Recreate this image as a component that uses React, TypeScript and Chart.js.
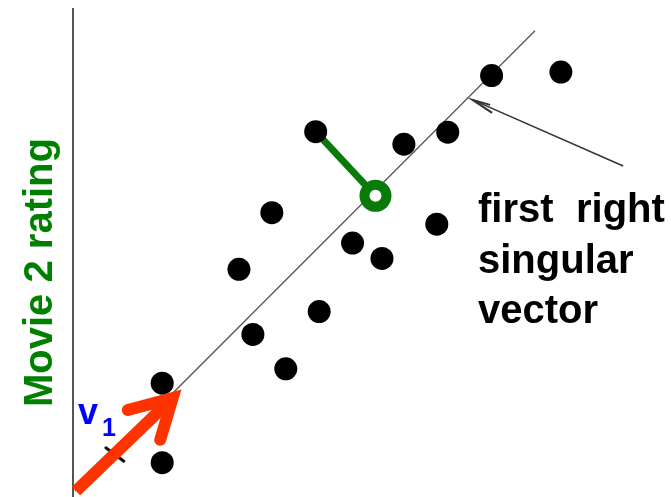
import React, { useEffect, useRef } from "react";
import { Chart, registerables } from "chart.js";

Chart.register(...registerables);

// Ratings (Movie 1 on x, Movie 2 on y)
const movie1 = [1.79, 1.79, 3.61, 4.27, 3.33, 3.99, 4.94, 5.61, 6.2, 4.87, 6.64, 7.52, 7.3, 8.4, 9.79];
const movie2 = [0.69, 2.29, 3.27, 2.58, 4.58, 5.72, 3.73, 5.11, 4.8, 7.35, 7.1, 7.34, 5.49, 8.48, 8.55];

// First right singular vector direction (line through the data)
const svX = [0.04, 9.27];
const svY = [0.12, 9.38];

// Projection of one point onto the vector
const projFromX = 4.87;
const projFromY = 7.35;
const projToX = 6.07;
const projToY = 6.06;

// v1 arrow
const v1ShaftX = [0.06, 2.0];
const v1ShaftY = [0.12, 1.99];
const v1HeadX = [1.1, 2.0, 1.75];
const v1HeadY = [1.75, 1.99, 1.15];
// remnant of the black arrowhead under v1
const oldHeadX = [0.66, 1.02];
const oldHeadY = [0.99, 0.72];

// Pointer arrow to the line
const ptrX = [11.04, 8.02];
const ptrY = [6.66, 7.99];
const ptrHeadX = [8.37, 8.02, 8.41];
const ptrHeadY = [7.89, 7.99, 7.73];

// Y axis line
const axisX = [0, 0];
const axisY = [9.84, 0];

const labelWords = [["first", "right"], ["singular"], ["vector"]];
const yTitle = "Movie 2 rating";

const pts = (xs: number[], ys: number[]) => xs.map((x, i) => ({ x, y: ys[i] }));

export default function App() {
  const ref = useRef<HTMLCanvasElement | null>(null);
  useEffect(() => {
    document.body.style.margin = "0";
    const canvas = ref.current!;
    const textPlugin = {
      id: "texts",
      afterDraw(chart: any) {
        const ctx = chart.ctx;
        ctx.save();
        ctx.textBaseline = "alphabetic";
        ctx.textAlign = "left";
        ctx.fillStyle = "#000";
        ctx.font = "bold 40px 'Liberation Sans', Arial, sans-serif";
        const bases = [222, 273, 323];
        labelWords.forEach((words, i) => {
          ctx.fillText(words[0], 478, bases[i]);
          if (words[1]) ctx.fillText(words[1], 576, bases[i]);
        });
        // y title
        ctx.save();
        ctx.translate(52, 407);
        ctx.rotate(-Math.PI / 2);
        ctx.fillStyle = "#008000";
        ctx.fillText(yTitle, 0, 0);
        ctx.restore();
        // v1
        ctx.fillStyle = "#0000FF";
        ctx.font = "bold 36px 'Liberation Sans', Arial, sans-serif";
        ctx.fillText("v", 78, 424);
        ctx.font = "bold 25px 'Liberation Sans', Arial, sans-serif";
        ctx.fillText("1", 102, 436);
        ctx.restore();
      },
    };
    const lineDs = (data: any, color: string, width: number, order: number, cap = "butt", join = "miter") => ({
      type: "scatter" as const,
      data,
      showLine: true,
      borderColor: color,
      backgroundColor: color,
      borderWidth: width,
      borderCapStyle: cap,
      borderJoinStyle: join,
      pointRadius: 0,
      tension: 0,
      clip: false,
      order,
    });
    const chart = new Chart(canvas, {
      type: "scatter",
      data: {
        datasets: [
          lineDs(pts(v1ShaftX, v1ShaftY), "#FF3300", 12, 0, "butt"),
          lineDs(pts(v1HeadX, v1HeadY), "#FF3300", 12, 1, "round", "miter"),
          lineDs(pts(oldHeadX, oldHeadY), "#111111", 3, 1.5, "round"),
          {
            type: "scatter",
            data: [{ x: projToX, y: projToY }],
            pointRadius: 11,
            borderWidth: 10,
            borderColor: "#0A7A0A",
            backgroundColor: "#FFFFFF",
            clip: false,
            order: 2,
          } as any,
          {
            type: "scatter",
            data: pts(movie1, movie2),
            pointRadius: 11.5,
            borderWidth: 0,
            backgroundColor: "#000000",
            borderColor: "#000000",
            clip: false,
            order: 3,
          } as any,
          lineDs([{ x: projFromX, y: projFromY }, { x: projToX, y: projToY }], "#0A7A0A", 7, 4),
          lineDs(pts(svX, svY), "#555555", 1.3, 5),
          lineDs(pts(ptrX, ptrY), "#333333", 1.5, 6),
          lineDs(pts(ptrHeadX, ptrHeadY), "#333333", 2, 7),
          lineDs(pts(axisX, axisY), "#555555", 2, 8),
        ] as any,
      },
      options: {
        animation: false,
        responsive: false,
        events: [],
        layout: { autoPadding: false, padding: { left: 73, right: 0, top: 0, bottom: 0 } },
        plugins: { legend: { display: false }, tooltip: { enabled: false } },
        scales: {
          x: { type: "linear", min: 0, max: 12, display: false },
          y: { type: "linear", min: 0, max: 10, display: false },
        },
      },
      plugins: [textPlugin],
    });
    return () => chart.destroy();
  }, []);
  return (
    <div style={{ width: 671, height: 497 }}>
      <canvas ref={ref} width={671} height={497} style={{ display: "block" }} />
    </div>
  );
}
